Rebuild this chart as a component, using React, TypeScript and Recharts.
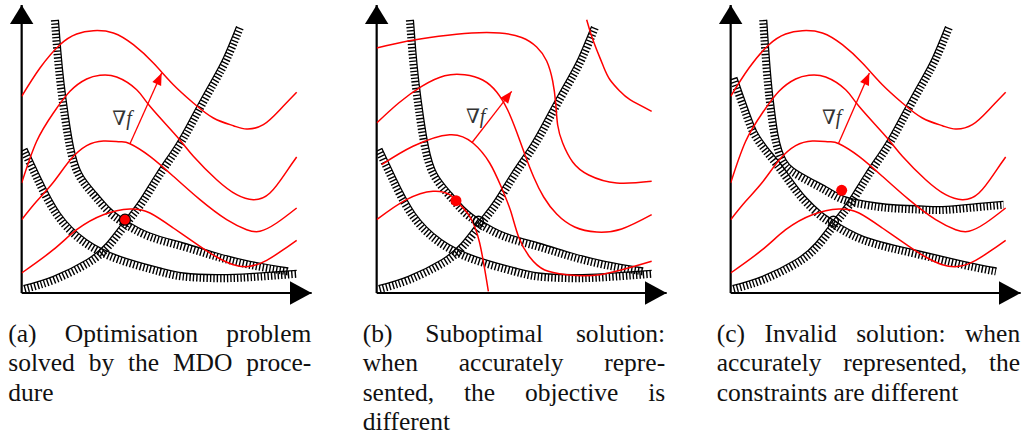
import React from "react";
import { ComposedChart, Line, XAxis, YAxis, ReferenceDot, ReferenceLine } from "recharts";

type P = [number, number];

// design space, one unit is about one pixel
const X_MAX = 290;
const Y_MAX = 288;

// objective contours, panels (a) and (c)
const objA1: P[] = [[0, 196.7], [18.3, 225], [38.3, 248.3], [55, 259], [71.7, 262.3], [91.7, 260], [111.7, 248.3], [131.7, 230], [151.7, 208.3], [171.7, 190], [191.7, 175], [211.7, 167.3], [225, 164], [241.7, 168.3], [258.3, 183.3], [275, 200.7]];
const objA2: P[] = [[0, 110], [15, 151.7], [31.7, 180], [48.3, 201.7], [65, 214], [78.3, 217.7], [95, 216], [115, 203.3], [128.3, 186.7], [155, 156.7], [171.7, 136.7], [195, 113.3], [215, 98.3], [231.7, 93.3], [248.3, 100], [265, 121.7], [275, 136]];
const objA3: P[] = [[0, 73.3], [15, 91.7], [31.7, 110.7], [48.3, 132.7], [65, 147.3], [81.7, 152], [98.3, 151.3], [108.3, 149.3], [128.3, 136.7], [151.7, 116.7], [178.3, 93.3], [205, 73.3], [225, 63.3], [238.3, 61.7], [255, 70], [275, 85]];
const objA4: P[] = [[0, 20], [31.7, 43.3], [55, 63.3], [81.7, 78.3], [108.3, 84], [128.3, 80], [151.7, 65], [178.3, 46.7], [195, 36], [211.7, 28.3], [228.3, 26.7], [245, 32.7], [261.7, 43.3], [275, 52.7]];

// objective contours, panel (b)
const objB0: P[] = [[210, 273.3], [215, 256.7], [220, 243.3], [226.7, 226.7], [233.3, 213.3], [243.3, 201.7], [253.3, 193.3], [275, 181.7]];
const objB1: P[] = [[0, 245], [30, 251.7], [62, 256.7], [95, 260], [123, 260], [145, 255.5], [160, 246], [170, 232], [176, 212], [179, 190], [181, 168], [186, 150], [196, 131], [212, 118], [240, 110], [275, 111.7]];
const objB2: P[] = [[0, 170], [22, 190], [45, 206.7], [68, 217.3], [88, 218.3], [106, 213], [120, 201], [131, 183], [140, 161], [148, 139], [157, 116], [167, 96], [180, 79], [198, 66], [220, 61], [245, 64], [275, 78.3]];
const objB3: P[] = [[5, 128.3], [36.3, 146.7], [73, 158.3], [96.3, 150], [113, 130], [125, 105], [134, 82], [142, 56], [153, 36], [168, 23], [190, 18.3], [223.3, 18.3], [275, 31.7]];
const objB4: P[] = [[0, 73.3], [29.7, 93.3], [56.3, 101.7], [73, 98.3], [81.7, 90], [93, 76.7], [103, 50], [111.7, 1.7]];

// constraints (hatched on the infeasible side)
const conG1: P[] = [[36.7, 273.3], [39, 243.3], [42.3, 210], [46.7, 176.7], [51.7, 146.7], [60, 120], [75, 100], [88.3, 85], [103.3, 73.3], [128.3, 60], [161.7, 50], [195, 40], [228.3, 31.7], [266.7, 25]];
const conG2: P[] = [[5, 145], [18.3, 116.7], [38.3, 80], [65, 53.3], [98.3, 36.7], [138.3, 25], [161.7, 20], [195, 18.3], [228.3, 19.3], [275, 22.7]];
const conG3: P[] = [[1.7, 7.3], [31.7, 16.7], [65, 33.3], [85, 50], [103.3, 73.3], [118.3, 93.3], [135, 120], [155, 150], [171.7, 180], [188.3, 210], [201.7, 235], [215, 266.7]];
// constraints as accurately represented, panel (c)
const conC1: P[] = [[36, 273.3], [38, 243.3], [40.7, 210], [43.7, 183.3], [47, 160], [51, 143.3], [55.3, 133.3], [62.7, 125], [79.3, 115], [96, 106], [111, 97.7], [126, 93.3], [146, 90], [166, 88], [196, 86.7], [216, 86.7], [246, 89.3], [272.7, 91.7]];
const conC2: P[] = [[6, 216], [12.7, 196.7], [19.3, 178.3], [26, 161.7], [36, 146.7], [49.3, 130], [62.7, 111.7], [76, 95], [91, 80.7], [102.7, 72.7], [132.7, 56.7], [182.7, 43.3], [232.7, 31.7], [266, 25]];

// gradient arrows (base, tip) and label positions
const gradA: P[] = [[108.3, 149.3], [140, 220]];
const gradB: P[] = [[95, 150], [135, 201.7]];
const gradC: P[] = [[107.7, 149.3], [138.7, 220]];
const labelA: P = [100.3, 175];
const labelB: P = [99, 177.3];
const labelC: P = [101, 176];

// solutions
const optA: P = [103.3, 73.3];
const optB: P = [79.3, 92.3];
const trueB: P = [101.7, 71.7];
const optC: P = [111, 102.7];
const trueC: P = [102.7, 71.7];

const captionA = ["(a) Optimisation problem", "solved by the MDO proce-", "dure"];
const captionB = ["(b) Suboptimal solution:", "when accurately repre-", "sented, the objective is", "different"];
const captionC = ["(c) Invalid solution: when", "accurately represented, the", "constraints are different"];

const RED = "#ff0000";
const SERIF = '"Times New Roman", "Liberation Serif", "DejaVu Serif", Times, serif';

const toXY = (a: P[]) => a.map(([x, y]) => ({ x, y }));

// move a constraint towards its infeasible side (right-hand normal)
function shifted(a: P[], d: number) {
  return a.map(([x, y], i) => {
    const [x0, y0] = a[Math.max(0, i - 1)];
    const [x1, y1] = a[Math.min(a.length - 1, i + 1)];
    const len = Math.hypot(x1 - x0, y1 - y0) || 1;
    return { x: x + (d * (y1 - y0)) / len, y: y - (d * (x1 - x0)) / len };
  });
}

const lineProps = {
  dataKey: "y",
  type: "natural" as const,
  dot: false,
  activeDot: false,
  legendType: "none" as const,
  isAnimationActive: false,
};

function hatched(c: P[], key: string) {
  return [
    <Line key={key + "h"} {...lineProps} data={shifted(c, 3.8)} stroke="#000" strokeWidth={7.4} strokeDasharray="1.4 2" />,
    <Line key={key + "l"} {...lineProps} data={toXY(c)} stroke="#000" strokeWidth={1.3} />,
  ];
}

const arrowHead = (g: P[]) => (p: any) => {
  const dx = g[1][0] - g[0][0];
  const dy = -(g[1][1] - g[0][1]);
  const l = Math.hypot(dx, dy);
  const ux = dx / l;
  const uy = dy / l;
  const bx = p.cx - ux * 12;
  const by = p.cy - uy * 12;
  return (
    <polygon
      points={`${p.cx},${p.cy} ${bx - uy * 4.8},${by + ux * 4.8} ${bx + uy * 4.8},${by - ux * 4.8}`}
      fill={RED}
    />
  );
};

interface PanelProps {
  left: number;
  objectives: P[][];
  constraints: P[][];
  grad: P[];
  label: P;
  opt: P;
  optStroke?: boolean;
  truth?: P;
}

function Panel({ left, objectives, constraints, grad, label, opt, optStroke, truth }: PanelProps) {
  return (
    <div style={{ position: "absolute", left, top: 0 }}>
      <ComposedChart width={320} height={310} margin={{ top: 5, right: 8.33, bottom: 17, left: 21.67 }}>
        <XAxis type="number" dataKey="x" domain={[0, X_MAX]} allowDataOverflow hide />
        <YAxis type="number" domain={[0, Y_MAX]} allowDataOverflow hide />
        <ReferenceLine x={0} stroke="#000" strokeWidth={2.2} ifOverflow="visible" />
        <ReferenceLine y={0} stroke="#000" strokeWidth={2.2} ifOverflow="visible" />
        {constraints.flatMap((c, i) => hatched(c, "c" + i))}
        {objectives.map((o, i) => (
          <Line key={"o" + i} {...lineProps} data={toXY(o)} stroke={RED} strokeWidth={1.5} />
        ))}
        <Line {...lineProps} type="linear" data={toXY(grad)} stroke={RED} strokeWidth={1.3} />
        <ReferenceDot x={grad[1][0]} y={grad[1][1]} r={3} shape={arrowHead(grad)} />
        <ReferenceDot
          x={label[0]}
          y={label[1]}
          r={3}
          shape={(p: any) => (
            <text x={p.cx} y={p.cy} textAnchor="middle" dominantBaseline="central" fontFamily={SERIF} fontSize={20} fill="#333">
              ∇<tspan fontStyle="italic">f</tspan>
            </text>
          )}
        />
        {truth && <ReferenceDot x={truth[0]} y={truth[1]} r={5} fill="none" stroke="#000" strokeWidth={1.4} />}
        <ReferenceDot
          x={opt[0]}
          y={opt[1]}
          r={5.5}
          fill={RED}
          stroke={optStroke ? "#000" : "none"}
          strokeWidth={1.2}
        />
        <ReferenceDot
          x={0}
          y={Y_MAX}
          r={3}
          shape={(p: any) => (
            <polygon points={`${p.cx},${p.cy} ${p.cx - 11.7},${p.cy + 19} ${p.cx + 11.7},${p.cy + 19}`} fill="#000" />
          )}
        />
        <ReferenceDot
          x={X_MAX}
          y={0}
          r={3}
          shape={(p: any) => (
            <polygon points={`${p.cx},${p.cy} ${p.cx - 21.7},${p.cy - 11.7} ${p.cx - 21.7},${p.cy + 11.7}`} fill="#000" />
          )}
        />
      </ComposedChart>
    </div>
  );
}

function Caption({ left, width, lines }: { left: number; width: number; lines: string[] }) {
  return (
    <div
      style={{
        position: "absolute",
        left,
        top: 318.6,
        width,
        fontFamily: SERIF,
        fontSize: 25.5,
        lineHeight: "29.5px",
        color: "#111",
      }}
    >
      {lines.map((t, i) => {
        const last = i === lines.length - 1;
        return (
          <div key={i} style={{ textAlign: last ? "left" : "justify", textAlignLast: last ? "auto" : "justify" }}>
            {t}
          </div>
        );
      })}
    </div>
  );
}

export default function App() {
  return (
    <div style={{ position: "absolute", left: 0, top: 0, width: 1027, height: 436, background: "#fff", overflow: "hidden" }}>
      <Panel
        left={0}
        objectives={[objA1, objA2, objA3, objA4]}
        constraints={[conG1, conG2, conG3]}
        grad={gradA}
        label={labelA}
        opt={optA}
        optStroke
      />
      <Panel
        left={355}
        objectives={[objB0, objB1, objB2, objB3, objB4]}
        constraints={[conG1, conG2, conG3]}
        grad={gradB}
        label={labelB}
        opt={optB}
        truth={trueB}
      />
      <Panel
        left={709}
        objectives={[objA1, objA2, objA3, objA4]}
        constraints={[conC1, conC2, conG3]}
        grad={gradC}
        label={labelC}
        opt={optC}
        truth={trueC}
      />
      <Caption left={8.3} width={303} lines={captionA} />
      <Caption left={362.7} width={302.5} lines={captionB} />
      <Caption left={716.7} width={303.5} lines={captionC} />
    </div>
  );
}
